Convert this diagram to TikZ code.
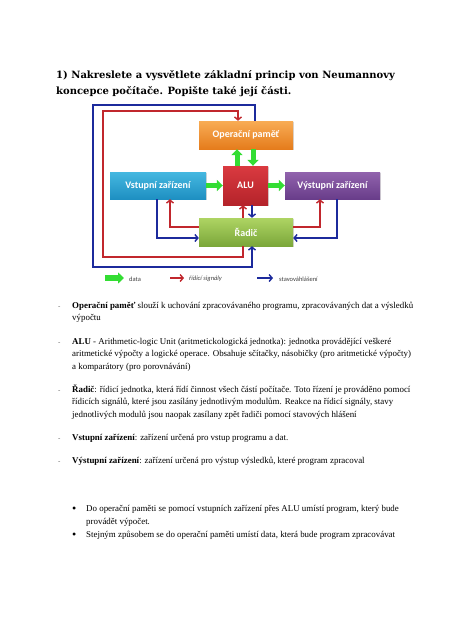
\documentclass[tikz,border=0pt]{standalone}
\usepackage{fontspec}
\setmainfont{Liberation Serif}
\newfontfamily\headfont{DejaVu Serif}
\newfontfamily\boxfont{Carlito}
\usetikzlibrary{arrows.meta,shadows}
\definecolor{ctrlred}{HTML}{C1272D}
\definecolor{statblue}{HTML}{1C2A9C}
\definecolor{datagreen}{HTML}{33DD33}
\definecolor{orangetop}{HTML}{F8AC55}
\definecolor{orangebot}{HTML}{E57C1C}
\definecolor{cyantop}{HTML}{45B8E0}
\definecolor{cyanbot}{HTML}{1E8FC2}
\definecolor{redtop}{HTML}{DA3A40}
\definecolor{redbot}{HTML}{B4232A}
\definecolor{violettop}{HTML}{9163AD}
\definecolor{violetbot}{HTML}{693D8A}
\definecolor{greentop}{HTML}{AED463}
\definecolor{greenbot}{HTML}{7BA73A}
\begin{document}
\begin{tikzpicture}[x=1pt,y=-1pt,
    box/.style={inner sep=0pt,text=white,font=\boxfont\bfseries\fontsize{10}{12}\selectfont,
        drop shadow={opacity=0.3,shadow xshift=1pt,shadow yshift=-1pt}},
    ctrl/.style={draw=ctrlred,line width=1.4pt,-{Straight Barb[length=3pt,width=7pt]}},
    stat/.style={draw=statblue,line width=1.4pt,-{Straight Barb[length=3pt,width=7pt]}},
    data/.style={draw=datagreen,line width=5pt,-{Triangle[length=6pt,width=11pt]}},
    legend/.style={anchor=west,inner sep=0pt,text=black!75,font=\boxfont\fontsize{6.5}{8}\selectfont},
    head/.style={anchor=base west,inner sep=0pt,font=\headfont\bfseries\fontsize{10}{12}\selectfont},
    txtline/.style={anchor=base west,inner sep=0pt,font=\fontsize{8.9}{10}\selectfont},
    hyph/.style={anchor=base west,inner sep=0pt,text=black!60,font=\fontsize{7}{8}\selectfont},
    dot/.style={anchor=base west,inner sep=0pt,font=\fontsize{12}{12}\selectfont}]
        \path[use as bounding box,fill=white](0,0)rectangle(474,632);
        \node[head](h1)at(56,78){1) Nakreslete a vysvětlete základní princip von Neumannovy};
        \node[head](h2)at(56,94){koncepce počítače. Popište také její části.};
        \node[box,top color=orangetop,bottom color=orangebot,minimum width=94pt,minimum height=28pt](1)at(246,135){Operační paměť};
        \node[box,top color=cyantop,bottom color=cyanbot,minimum width=96pt,minimum height=27pt](2)at(158,185.5){Vstupní zařízení};
        \node[box,top color=redtop,bottom color=redbot,minimum width=45pt,minimum height=39pt](3)at(245.5,185.5){ALU};
        \node[box,top color=violettop,bottom color=violetbot,minimum width=95pt,minimum height=27pt](4)at(332.5,185.5){Výstupní zařízení};
        \node[box,top color=greentop,bottom color=greenbot,minimum width=94pt,minimum height=28pt](5)at(246,232){Řadič};
        \draw[data]([xshift=-8.5pt]3.north)--([xshift=-9pt]1.south);
        \draw[data]([xshift=7pt]1.south)--([xshift=7.5pt]3.north);
        \draw[data](2)--(3);
        \draw[data](3)--(4);
        \draw[ctrl]([yshift=5pt]5.west)-|([xshift=12pt]2.south);
        \draw[stat]([xshift=-1pt]2.south)|-([yshift=-6pt]5.west);
        \draw[ctrl]([xshift=-3pt]5.north)--([xshift=-2.5pt]3.south);
        \draw[stat]([xshift=6.5pt]3.south)--([xshift=6pt]5.north);
        \draw[ctrl]([yshift=5pt]5.east)-|([xshift=-12.5pt]4.south);
        \draw[stat]([xshift=4.5pt]4.south)|-([yshift=-6pt]5.east);
        \draw[ctrl]([xshift=-3pt]5.south)|-(103,257)|-(238,111)--([xshift=-8pt]1.north);
        \draw[stat]([xshift=9pt]1.north)|-(93,105)|-(252,267)--([xshift=6pt]5.south);
        \coordinate(6)at(105,278);
        \coordinate(7)at(124,278);
        \draw[data,line width=6pt](6)--(7);
        \node[legend](8)at(129,279){data};
        \coordinate(9)at(170,278);
        \coordinate(10)at(184,278);
        \draw[ctrl](9)--(10);
        \node[legend,font=\boxfont\itshape\fontsize{6.5}{8}\selectfont](11)at(189,279){řídicí signály};
        \coordinate(12)at(257,278);
        \coordinate(13)at(273,278);
        \draw[stat](12)--(13);
        \node[legend](14)at(279,279){stavováhlášení};
        \node[hyph](d1)at(58,308){-};
        \node[txtline](a1)at(72,308){\textbf{Operační paměť} slouží k uchování zpracovávaného programu, zpracovávaných dat a výsledků};
        \node[txtline](a2)at(72,320.5){výpočtu};
        \node[hyph](d2)at(58,344){-};
        \node[txtline](b1)at(72,344){\textbf{ALU} - Arithmetic-logic Unit (aritmetickologická jednotka): jednotka provádějící veškeré};
        \node[txtline](b2)at(72,356.5){aritmetické výpočty a logické operace. Obsahuje sčítačky, násobičky (pro aritmetické výpočty)};
        \node[txtline](b3)at(72,369){a komparátory (pro porovnávání)};
        \node[hyph](d3)at(58,392){-};
        \node[txtline](c1)at(72,392){\textbf{Řadič}: řídicí jednotka, která řídí činnost všech částí počítače. Toto řízení je prováděno pomocí};
        \node[txtline](c2)at(72,404.5){řídicích signálů, které jsou zasílány jednotlivým modulům. Reakce na řídicí signály, stavy};
        \node[txtline](c3)at(72,417){jednotlivých modulů jsou naopak zasílany zpět řadiči pomocí stavových hlášení};
        \node[hyph](d4)at(58,440){-};
        \node[txtline](e1)at(72,440){\textbf{Vstupní zařízení}: zařízení určená pro vstup programu a dat.};
        \node[hyph](d5)at(58,463){-};
        \node[txtline](f1)at(72,463){\textbf{Výstupní zařízení}: zařízení určená pro výstup výsledků, které program zpracoval};
        \node[dot](g0)at(72,512){\textbullet};
        \node[txtline](g1)at(86,511){Do operační paměti se pomocí vstupních zařízení přes ALU umístí program, který bude};
        \node[txtline](g2)at(86,524){provádět výpočet.};
        \node[dot](k0)at(72,538){\textbullet};
        \node[txtline](k1)at(86,537){Stejným způsobem se do operační paměti umístí data, která bude program zpracovávat};
\end{tikzpicture}
\end{document}
